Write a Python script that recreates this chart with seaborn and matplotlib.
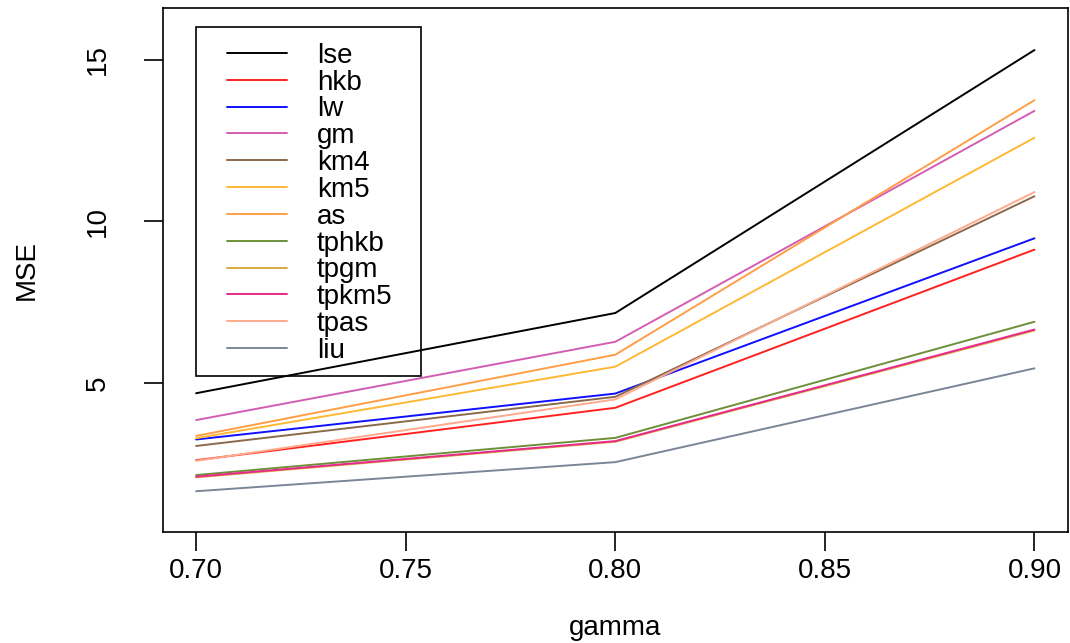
import matplotlib
matplotlib.use("Agg")
import matplotlib.pyplot as plt
from matplotlib.patches import Rectangle
import seaborn as sns
import pandas as pd

gamma = [0.70, 0.80, 0.90]
methods = ["lse", "hkb", "lw", "gm", "km4", "km5", "as", "tphkb", "tpgm", "tpkm5", "tpas", "liu"]
lse = [4.69, 7.17, 15.30]
hkb = [2.62, 4.24, 9.13]
lw = [3.26, 4.68, 9.48]
gm = [3.86, 6.28, 13.42]
km4 = [3.06, 4.58, 10.78]
km5 = [3.30, 5.51, 12.59]
as_ = [3.37, 5.88, 13.75]
tphkb = [2.16, 3.31, 6.90]
tpgm = [2.09, 3.19, 6.63]
tpkm5 = [2.11, 3.21, 6.66]
tpas = [2.60, 4.50, 10.91]
liu = [1.66, 2.56, 5.46]
series = [lse, hkb, lw, gm, km4, km5, as_, tphkb, tpgm, tpkm5, tpas, liu]
colors = ["#000000", "#FF2020", "#1010FF", "#D45DB4", "#8B6A4B", "#FFB833",
          "#FF9E45", "#6E8F3A", "#D6AA40", "#E8288A", "#FFAA8C", "#7A8696"]
xticks = [0.70, 0.75, 0.80, 0.85, 0.90]
yticks = [5, 10, 15]

rows = []
for m, vals in zip(methods, series):
    for g, v in zip(gamma, vals):
        rows.append({"gamma": g, "MSE": v, "method": m})
df = pd.DataFrame(rows)

sns.set_theme(style="white")
plt.rcParams["font.family"] = ["Liberation Sans", "DejaVu Sans"]
plt.rcParams["text.color"] = "black"
plt.rcParams["axes.labelcolor"] = "black"

W, H = 1070, 643
L, R, T, B = 162.6, 1068, 8, 532
fig = plt.figure(figsize=(W/100, H/100), dpi=100)
ax = fig.add_axes([L/W, 1 - B/H, (R - L)/W, (B - T)/H])

def ax_x(px):
    return (px - L)/(R - L)

def ax_y(py):
    return (B - py)/(B - T)

sns.lineplot(data=df, x="gamma", y="MSE", hue="method", hue_order=methods,
             palette=dict(zip(methods, colors)), linewidth=1.4, ax=ax, legend=True)

ax.set_xlim(0.692, 0.908)
ax.set_ylim(0.4, 16.6)
ax.set_xticks(xticks)
ax.set_xticklabels([f"{t:.2f}" for t in xticks])
ax.set_yticks(yticks)
ax.set_yticklabels([str(t) for t in yticks], rotation=90, va="center")
ax.tick_params(axis="both", direction="out", length=14, width=1.2, color="black",
               labelsize=20, labelcolor="black", bottom=True, left=True)
ax.tick_params(axis="x", pad=4.5)
ax.tick_params(axis="y", pad=23)
for s in ax.spines.values():
    s.set_visible(True)
    s.set_color("black")
    s.set_linewidth(1.2)

ax.set_xlabel("gamma", fontsize=20, color="black", va="center")
ax.set_ylabel("MSE", fontsize=20, color="black", va="center")
ax.xaxis.set_label_coords(0.5, ax_y(628))
ax.yaxis.set_label_coords(ax_x(27), 0.5)

h, l = ax.get_legend_handles_labels()
leg = ax.legend(h, l, loc="upper left", bbox_to_anchor=(ax_x(226.7), ax_y(42.7)),
                borderaxespad=0, fontsize=20, frameon=False,
                handlelength=2.16, handletextpad=1.08, labelspacing=0.03, borderpad=0)
for line in leg.get_lines():
    line.set_linewidth(1.4)
for t in leg.get_texts():
    t.set_color("black")
ax.add_patch(Rectangle((ax_x(196), ax_y(376)), ax_x(421) - ax_x(196), ax_y(27) - ax_y(376),
                       transform=ax.transAxes, fill=False, edgecolor="black", linewidth=1.2,
                       zorder=5))

fig.savefig("out.png", dpi=100)
